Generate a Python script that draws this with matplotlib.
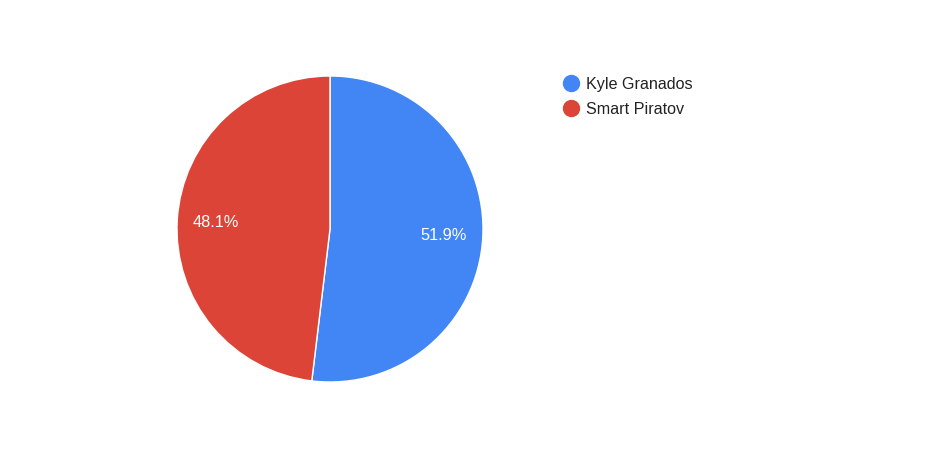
import matplotlib.pyplot as plt
from matplotlib.lines import Line2D

names = ["Kyle Granados", "Smart Piratov"]
shares = [51.9, 48.1]
colors = ["#4285F4", "#DB4437"]

plt.rcParams['font.family'] = ['Liberation Sans', 'DejaVu Sans']

W, H = 925, 467
fig = plt.figure(figsize=(W / 100, H / 100), dpi=100)

# pie area in pixel terms
cx, cy, r = 330, 229, 153
ax = fig.add_axes([(cx - r) / W, (H - cy - r) / H, 2 * r / W, 2 * r / H])
wedges, texts, autotexts = ax.pie(
    shares, colors=colors, startangle=90, counterclock=False,
    autopct='%.1f%%', pctdistance=0.745,
    wedgeprops=dict(edgecolor='white', linewidth=1),
    textprops=dict(color='white', fontsize=11.8))
ax.set_xlim(-1, 1)
ax.set_ylim(-1, 1)
ax.set_aspect('equal')

handles = [Line2D([], [], marker='o', linestyle='none', markersize=11.5,
                  markerfacecolor=c, markeredgecolor=c) for c in colors]
fig.legend(handles, names, loc='upper left', bbox_to_anchor=(552 / W, 1 - 69 / H),
           frameon=False, fontsize=11.6, handletextpad=0.3, labelspacing=0.62,
           handlelength=1.3, labelcolor='#222222', borderpad=0)

fig.savefig("out.png", dpi=100, facecolor='white')
